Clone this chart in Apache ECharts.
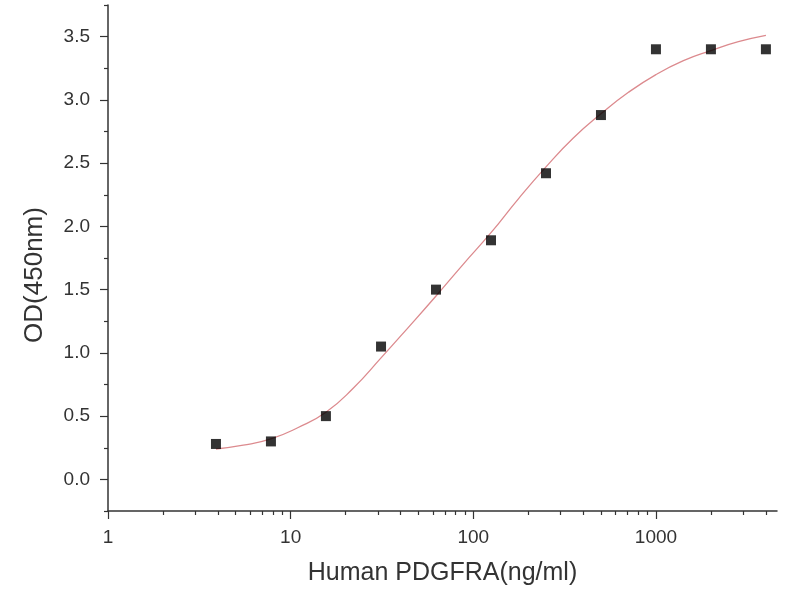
<!DOCTYPE html>
<html>
<head>
<meta charset="utf-8">
<title>Human PDGFRA ELISA</title>
<script src="https://cdn.jsdelivr.net/npm/echarts@6/dist/echarts.min.js"></script>
<style>
  html, body { margin: 0; padding: 0; background: #fff; }
  #chart { width: 800px; height: 600px; }
</style>
</head>
<body>
<div id="chart"></div>
<script>
// measured points (ng/ml vs OD450)
const concentrations = [3.9, 7.8, 15.6, 31.25, 62.5, 125, 250, 500, 1000, 2000, 4000];
const odValues = [0.28, 0.30, 0.50, 1.05, 1.50, 1.89, 2.42, 2.88, 3.40, 3.40, 3.40];

// fitted curve
const fitX = [3.9, 5.5, 7.8, 11, 15.6, 22, 31.25, 44, 62.5, 88, 125, 177, 250, 354, 500, 707, 1000, 1414, 2000, 2828, 4000];
const fitY = [0.24, 0.27, 0.32, 0.41, 0.53, 0.72, 0.96, 1.20, 1.45, 1.70, 1.95, 2.22, 2.47, 2.70, 2.89, 3.06, 3.20, 3.31, 3.39, 3.46, 3.51];

// tick labels
const xMajorTicks = [1, 10, 100, 1000];
const xMinorTicks = [2, 3, 4, 5, 6, 7, 8, 9, 20, 30, 40, 50, 60, 70, 80, 90,
                     200, 300, 400, 500, 600, 700, 800, 900, 2000, 3000, 4000];
const yMajorTicks = [0, 0.5, 1.0, 1.5, 2.0, 2.5, 3.0, 3.5];
const yMinorTicks = [-0.25, 0.25, 0.75, 1.25, 1.75, 2.25, 2.75, 3.25, 3.75];

const font = 'Liberation Sans, Arial, sans-serif';
const axisColor = '#333';

const chart = echarts.init(document.getElementById('chart'));

const xBase = {
    type: 'log',
    logBase: 10,
    min: 1,
    max: 4600,
    gridIndex: 0,
    position: 'bottom',
    splitLine: {show: false}
};
const yBase = {
    type: 'value',
    min: -0.25,
    max: 3.75,
    interval: 0.25,
    gridIndex: 0,
    position: 'left',
    splitLine: {show: false}
};

chart.setOption({
    backgroundColor: '#fff',
    animation: false,
    grid: {left: 108, top: 5, right: 23, bottom: 89},
    xAxis: [
        Object.assign({}, xBase, {
            name: 'Human PDGFRA(ng/ml)',
            nameLocation: 'middle',
            nameGap: 50,
            nameTextStyle: {fontFamily: font, fontSize: 25, color: '#333'},
            axisLine: {show: true, onZero: false, lineStyle: {color: axisColor, width: 1.5}},
            axisTick: {show: true, length: 8, customValues: xMajorTicks, lineStyle: {color: axisColor, width: 1.2}},
            axisLabel: {
                customValues: xMajorTicks,
                margin: 17,
                fontFamily: font,
                fontSize: 19,
                color: '#333',
                formatter: v => String(v)
            }
        }),
        Object.assign({}, xBase, {
            axisLine: {show: false, onZero: false},
            axisTick: {show: true, length: 4, customValues: xMinorTicks, lineStyle: {color: axisColor, width: 1.2}},
            axisLabel: {show: false}
        })
    ],
    yAxis: [
        Object.assign({}, yBase, {
            name: 'OD(450nm)',
            nameLocation: 'middle',
            nameGap: 60,
            nameTextStyle: {fontFamily: font, fontSize: 26, color: '#333', padding: [0, 34, 0, 0]},
            axisLine: {show: true, onZero: false, lineStyle: {color: axisColor, width: 1.5}},
            axisTick: {show: true, length: 8, customValues: yMajorTicks, lineStyle: {color: axisColor, width: 1.2}},
            axisLabel: {
                customValues: yMajorTicks,
                margin: 18,
                fontFamily: font,
                fontSize: 19,
                color: '#333',
                formatter: v => v.toFixed(1)
            }
        }),
        Object.assign({}, yBase, {
            axisLine: {show: false, onZero: false},
            axisTick: {show: true, length: 4, customValues: yMinorTicks, lineStyle: {color: axisColor, width: 1.2}},
            axisLabel: {show: false}
        })
    ],
    series: [
        {
            name: 'fit',
            type: 'line',
            xAxisIndex: 0,
            yAxisIndex: 0,
            data: fitX.map((x, i) => [x, fitY[i]]),
            smooth: true,
            showSymbol: false,
            lineStyle: {color: '#dc8a8e', width: 1.3},
            z: 2
        },
        {
            name: 'OD',
            type: 'scatter',
            xAxisIndex: 0,
            yAxisIndex: 0,
            data: concentrations.map((x, i) => [x, odValues[i]]),
            symbol: 'rect',
            symbolSize: 10,
            itemStyle: {color: '#000'},
            z: 3
        }
    ]
});
</script>
</body>
</html>
